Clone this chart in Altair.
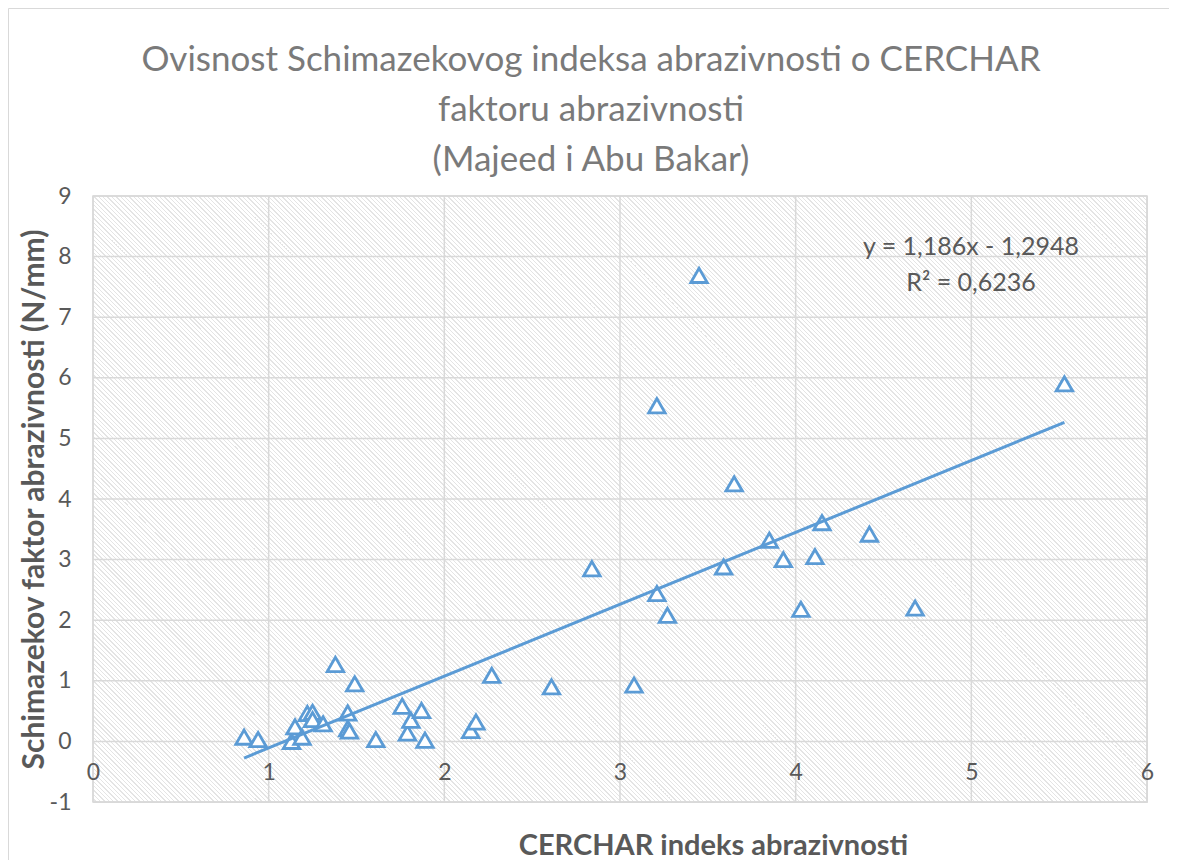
import altair as alt
import pandas as pd

# ---- data ----
cerchar = [0.86, 0.94, 1.13, 1.15, 1.19, 1.22, 1.25, 1.25, 1.31, 1.38,
           1.45, 1.45, 1.46, 1.49, 1.61, 1.76, 1.79, 1.81, 1.87, 1.89,
           2.15, 2.18, 2.27, 2.61, 2.84, 3.08, 3.21, 3.21, 3.27, 3.45,
           3.59, 3.65, 3.85, 3.93, 4.03, 4.11, 4.15, 4.42, 4.68, 5.53]
schimazek = [0.07, 0.03, 0.00, 0.24, 0.07, 0.46, 0.48, 0.36, 0.29, 1.27,
             0.47, 0.21, 0.17, 0.95, 0.03, 0.58, 0.14, 0.35, 0.51, 0.02,
             0.18, 0.32, 1.09, 0.90, 2.85, 0.93, 5.54, 2.44, 2.08, 7.69,
             2.88, 4.25, 3.32, 3.00, 2.18, 3.05, 3.61, 3.42, 2.20, 5.90]
slope = 1.186
intercept = -1.2948
r_squared = 0.6236
x_ticks = [0, 1, 2, 3, 4, 5, 6]
y_ticks = [-1, 0, 1, 2, 3, 4, 5, 6, 7, 8, 9]

title_lines = ["Ovisnost Schimazekovog indeksa abrazivnosti o CERCHAR",
               "faktoru abrazivnosti",
               "(Majeed i Abu Bakar)"]
x_title = "CERCHAR indeks abrazivnosti"
y_title = "Schimazekov faktor abrazivnosti (N/mm)"

# ---- tables ----
pts = pd.DataFrame({"x": cerchar, "y": schimazek})
xs = [min(cerchar), max(cerchar)]
trend = pd.DataFrame({"x": xs, "y": [slope * v + intercept for v in xs]})
gx = pd.DataFrame({"v": x_ticks})
gy = pd.DataFrame({"v": y_ticks})


def fmt(v):
    return str(v).replace(".", ",")


eq_text = f"y = {fmt(slope)}x - {fmt(abs(intercept))}\nR² = {fmt(r_squared)}"
title_text = "\n".join(title_lines)

W, H = 1054, 606
FONT = "Lato"
BLUE = "#5b9bd5"
GRID = "#d9d9d9"
TXT = "#595959"

xscale = alt.Scale(domain=[0, 6], nice=False, zero=False)
yscale = alt.Scale(domain=[-1, 9], nice=False, zero=False)

ax_x = alt.Axis(
    values=x_ticks, grid=False, domain=False, ticks=False, offset=-60.6,
    labelPadding=20, labelFontSize=23, labelColor=TXT, labelFont=FONT,
    labelFlush=False, labelOverlap=False,
    title=x_title, titleFont=FONT, titleFontSize=29, titleFontWeight="bold",
    titleColor=TXT, titleX=620, titleY=113, titleAlign="center",
    titleBaseline="alphabetic", zindex=2)
ax_y = alt.Axis(
    values=y_ticks, grid=False, domain=False, ticks=False,
    labelPadding=22, labelFontSize=23, labelColor=TXT, labelFont=FONT,
    labelExpr="replace(datum.label, '\u2212', '-')", labelOverlap=False,
    title=y_title, titleFont=FONT, titleFontSize=30, titleFontWeight="bold",
    titleColor=TXT, titleX=-50, titleY=H / 2, titleAngle=270,
    titleAlign="center", titleBaseline="alphabetic")

# diagonal hatch via a striped linear gradient
a = H / W
N = 380
stops = []
for k in range(N):
    stops.append({"offset": k / N, "color": "#ffffff"})
    stops.append({"offset": (k + 0.68) / N, "color": "#ffffff"})
    stops.append({"offset": (k + 0.68) / N, "color": "#e4e4e4"})
    stops.append({"offset": (k + 1) / N, "color": "#e4e4e4"})
s = (1 + a) / (1 + a * a)
hatch = {"gradient": "linear", "x1": 0, "y1": 1, "x2": s, "y2": 1 - a * s,
         "stops": stops}

one = alt.Data(values=[{"k": 1}])

outer = alt.Chart(one).mark_rect(fill=None, stroke=GRID, strokeWidth=1).encode(
    x=alt.value(-84.5), x2=alt.value(W + 200), y=alt.value(-187.5), y2=alt.value(H + 200))

frame = alt.Chart(one).mark_rect(fill=hatch, stroke=GRID, strokeWidth=1.5).encode(
    x=alt.value(0), x2=alt.value(W), y=alt.value(0), y2=alt.value(H))

vgrid = alt.Chart(gx).mark_rule(color=GRID, strokeWidth=1.5).encode(
    x=alt.X("v:Q", scale=xscale, axis=ax_x), y=alt.value(0), y2=alt.value(H))
hgrid = alt.Chart(gy).mark_rule(color=GRID, strokeWidth=1.5).encode(
    y=alt.Y("v:Q", scale=yscale, axis=ax_y), x=alt.value(0), x2=alt.value(W))

points = alt.Chart(pts).mark_point(
    shape="triangle-up", size=270, filled=False, fill="white", fillOpacity=1,
    stroke=BLUE, strokeWidth=2.8, opacity=1).encode(
    x=alt.X("x:Q", scale=xscale, axis=ax_x),
    y=alt.Y("y:Q", scale=yscale, axis=ax_y))

line = alt.Chart(trend).mark_line(color=BLUE, strokeWidth=3).encode(
    x=alt.X("x:Q", scale=xscale, axis=ax_x),
    y=alt.Y("y:Q", scale=yscale, axis=ax_y))

eq = alt.Chart(one).mark_text(
    align="center", baseline="middle", fontSize=25, lineHeight=36,
    font=FONT, color=TXT, lineBreak="\n", text=eq_text).encode(
    x=alt.value(878), y=alt.value(51))

title = alt.Chart(one).mark_text(
    align="center", baseline="middle", fontSize=35, lineHeight=50,
    font=FONT, color="#7a7a7a", lineBreak="\n", text=title_text).encode(
    x=alt.value(498), y=alt.value(-136))

chart = alt.layer(outer, frame, vgrid, hgrid, points, line, eq, title).properties(
    width=W, height=H,
    autosize=alt.AutoSizeParams(type="none"),
    padding={"left": 85, "top": 188, "right": 22, "bottom": 58},
).configure_view(stroke=None).configure(background="white")

chart.save("out.html", embed_options={"renderer": "svg", "actions": False})
